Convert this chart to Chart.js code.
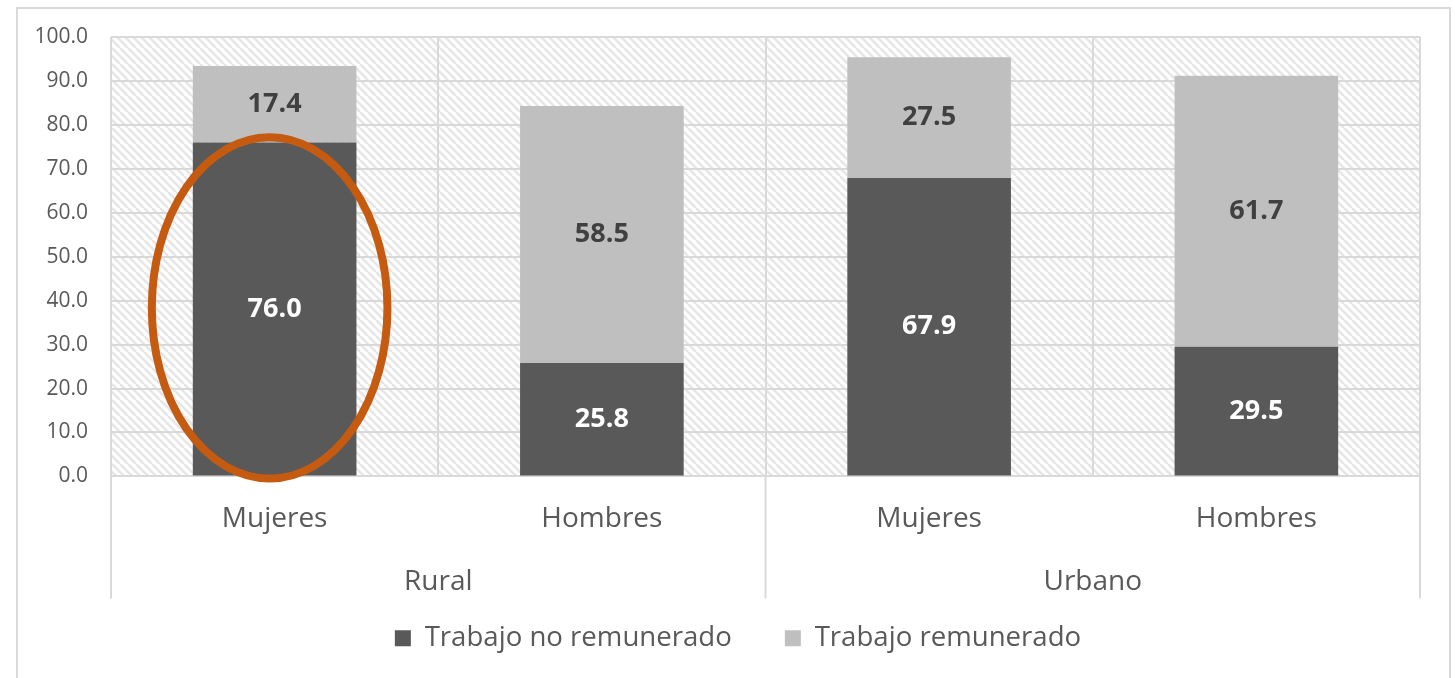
<!DOCTYPE html>
<html>
<head>
<meta charset="utf-8">
<script src="https://cdn.jsdelivr.net/npm/chart.js@4.4.1/dist/chart.umd.min.js"></script>
<style>
  html, body { margin: 0; padding: 0; background: #fff; overflow: hidden; }
  #frame { position: absolute; left: 16px; top: 7px; width: 1431px; height: 700px; border: 2px solid #d9d9d9; }
  #chart { position: absolute; left: 0; top: 0; }
</style>
</head>
<body>
<div id="frame"></div>
<canvas id="chart" width="1455" height="678"></canvas>
<script>
// categories (two levels) and series
const categories = ['Mujeres', 'Hombres', 'Mujeres', 'Hombres'];
const groups = ['Rural', 'Urbano'];
const groupSize = 2;
const noRemunerado = [76.0, 25.8, 67.9, 29.5];
const remunerado = [17.4, 58.5, 27.5, 61.7];
const seriesNames = ['Trabajo no remunerado', 'Trabajo remunerado'];
const yTicks = { min: 0, max: 100, step: 10 };
// highlighted bar (orange ellipse), in data units
const highlight = { index: 0, top: 77.2, bottom: -0.5 };

const FONT = "'Open Sans', 'Noto Sans', sans-serif";
const TEXT = '#595959';
const GRID = '#d9d9d9';

function makeHatch(ctx) {
    var c = document.createElement('canvas');
    c.width = 16; c.height = 16;
    var g = c.getContext('2d');
    g.fillStyle = '#ffffff';
    g.fillRect(0, 0, 16, 16);
    g.strokeStyle = '#e6e6e6';
    g.lineWidth = 2.5;
    for (var k = -16; k <= 32; k += 8) {
        g.beginPath();
        g.moveTo(k, 0);
        g.lineTo(k + 16, 16);
        g.stroke();
    }
    return ctx.createPattern(c, 'repeat');
}

const hatchBackground = {
    id: 'hatchBackground',
    beforeDraw(chart) {
        const {ctx, chartArea: a} = chart;
        ctx.save();
        ctx.fillStyle = makeHatch(ctx);
        ctx.fillRect(a.left, a.top, a.right - a.left, a.bottom - a.top);
        ctx.restore();
    }
};

// excel centres the legend a bit left of the plot centre
const legendShift = {
    id: 'legendShift',
    afterLayout(chart) {
        chart.legend.left += 20;
        chart.legend.right += 20;
    }
};

const barLabels = {
    id: 'barLabels',
    afterDatasetsDraw(chart) {
        const ctx = chart.ctx;
        ctx.save();
        ctx.font = 'bold 27px ' + FONT;
        ctx.textAlign = 'center';
        ctx.textBaseline = 'middle';
        chart.data.datasets.forEach((ds, i) => {
            const meta = chart.getDatasetMeta(i);
            ctx.fillStyle = i === 0 ? '#ffffff' : '#404040';
            meta.data.forEach((bar, j) => {
                const v = ds.data[j];
                ctx.fillText(v.toFixed(1), bar.x, (bar.y + bar.base) / 2);
            });
        });
        ctx.restore();
    }
};

// second level of the category axis + the ellipse
const groupAxis = {
    id: 'groupAxis',
    afterDraw(chart) {
        const ctx = chart.ctx;
        const x = chart.scales.x, y = chart.scales.y;
        const a = chart.chartArea;
        ctx.save();
        ctx.strokeStyle = GRID;
        ctx.lineWidth = 2;
        const edges = [];
        for (var g = 0; g <= groups.length; g++) {
            edges.push(x.getPixelForValue(g * groupSize - 0.5));
        }
        edges.forEach(px => {
            ctx.beginPath();
            ctx.moveTo(px, a.bottom);
            ctx.lineTo(px, a.bottom + 122);
            ctx.stroke();
        });
        ctx.fillStyle = TEXT;
        ctx.font = '28px ' + FONT;
        ctx.textAlign = 'center';
        ctx.textBaseline = 'middle';
        groups.forEach((name, i) => {
            ctx.fillText(name, (edges[i] + edges[i + 1]) / 2, a.bottom + 106);
        });

        const cx = x.getPixelForValue(highlight.index) - 5;
        const top = y.getPixelForValue(highlight.top);
        const bottom = y.getPixelForValue(highlight.bottom);
        const rx = (x.getPixelForValue(1) - x.getPixelForValue(0)) * 0.36;
        ctx.strokeStyle = '#c55a11';
        ctx.lineWidth = 8;
        ctx.beginPath();
        ctx.ellipse(cx, (top + bottom) / 2, rx, (bottom - top) / 2, 0, 0, Math.PI * 2);
        ctx.stroke();
        ctx.restore();
    }
};

new Chart(document.getElementById('chart'), {
    type: 'bar',
    data: {
        labels: categories,
        datasets: [
            { label: seriesNames[0], data: noRemunerado, backgroundColor: '#595959' },
            { label: seriesNames[1], data: remunerado, backgroundColor: '#bfbfbf' }
        ]
    },
    options: {
        responsive: false,
        animation: false,
        categoryPercentage: 1,
        barPercentage: 0.5,
        layout: { padding: { left: 16, right: 35, top: 37, bottom: 16 } },
        scales: {
            x: {
                stacked: true,
                grid: { offset: true, color: GRID, lineWidth: 2, drawTicks: false },
                border: { color: GRID, width: 2 },
                ticks: { color: TEXT, font: { family: FONT, size: 28 }, padding: 26 },
                afterFit: s => { s.height = 95; }
            },
            y: {
                stacked: true,
                min: yTicks.min,
                max: yTicks.max,
                grid: { color: GRID, lineWidth: 2, drawTicks: false },
                border: { display: false },
                ticks: {
                    stepSize: yTicks.step,
                    color: TEXT,
                    font: { family: FONT, size: 21 },
                    padding: 23,
                    callback: v => v.toFixed(1)
                },
                afterFit: s => { s.width = 95; }
            }
        },
        plugins: {
            legend: {
                position: 'bottom',
                labels: {
                    color: TEXT,
                    font: { family: FONT, size: 27.6 },
                    boxWidth: 16,
                    boxHeight: 16,
                    padding: 53
                }
            },
            tooltip: { enabled: false }
        }
    },
    plugins: [hatchBackground, legendShift, barLabels, groupAxis]
});
</script>
</body>
</html>
